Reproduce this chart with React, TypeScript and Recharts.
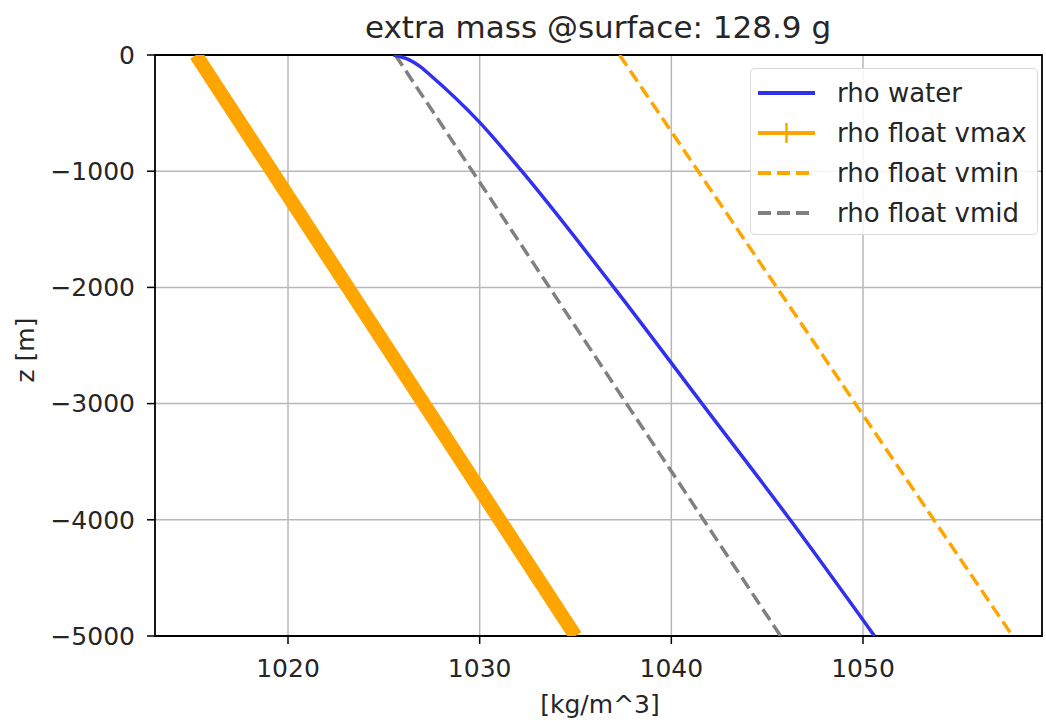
import React from 'react';
import { LineChart, Line, XAxis, YAxis, CartesianGrid, Legend, ReferenceArea } from 'recharts';

const zWater = [0, -40, -100, -170, -580, -1000, -2000, -3000, -4000, -5000];
const rhoWaterVals = [1025.5, 1026.3, 1026.9, 1027.4, 1030.0, 1032.2, 1037.0, 1041.6, 1046.2, 1050.6];

const zEnds = [0, -5000];
const rhoVmax = [1015.2, 1035.0];
const rhoVmin = [1037.3, 1057.8];
const rhoVmid = [1025.6, 1045.7];

const xTicks = [1020, 1030, 1040, 1050];
const yTicks = [0, -1000, -2000, -3000, -4000, -5000];
const xDomain = [1013.06, 1059.34];
const yDomain = [-5000, 0];

const titleText = 'extra mass @surface: 128.9 g';
const xLabel = '[kg/m^3]';
const yLabel = 'z [m]';

const toRows = (xs: number[], zs: number[]) => xs.map((x, i) => ({ x, z: zs[i] }));

const waterData = toRows(rhoWaterVals, zWater);
const vmaxData = toRows(rhoVmax, zEnds);
const vminData = toRows(rhoVmin, zEnds);
const vmidData = toRows(rhoVmid, zEnds);

const FONT = '"DejaVu Sans", sans-serif';
const TEXT = '#262626';
const BLUE = '#3030ee';

const fmt = (v: number) => (v < 0 ? '\u2212' + Math.abs(v) : String(v));

const legendItems = [
  { label: 'rho water', color: BLUE, dash: '', plus: false },
  { label: 'rho float vmax', color: '#FFA500', dash: '', plus: true },
  { label: 'rho float vmin', color: '#FFA500', dash: '13 6', plus: false },
  { label: 'rho float vmid', color: '#808080', dash: '13 6', plus: false },
];

const renderLegend = () => (
  <div
    style={{
      border: '1.5px solid #d9d9d9',
      borderRadius: 5,
      background: 'rgba(255,255,255,0.85)',
      padding: '4px 0 3px 6px',
      fontFamily: FONT,
      fontSize: 26,
      color: TEXT,
      boxSizing: 'border-box',
      width: 288,
      height: 167,
    }}
  >
    {legendItems.map((it) => (
      <div key={it.label} style={{ display: 'flex', alignItems: 'center', height: 40, whiteSpace: 'nowrap' }}>
        <svg width={60} height={24} style={{ marginRight: 20, flex: 'none' }}>
          <line x1={1} y1={12} x2={58} y2={12} stroke={it.color} strokeWidth={4} strokeDasharray={it.dash || undefined} />
          {it.plus && <line x1={29.5} y1={2} x2={29.5} y2={22} stroke={it.color} strokeWidth={2.5} />}
        </svg>
        <span>{it.label}</span>
      </div>
    ))}
  </div>
);

export default function App() {
  return (
    <div style={{ position: 'absolute', left: 0, top: 0, width: 1046, height: 721, background: '#fff' }}>
      <LineChart
        width={1046}
        height={721}
        margin={{ top: 55, right: 4, bottom: 35, left: 55 }}
      >
        <CartesianGrid stroke="#b8b8b8" strokeWidth={1.5} verticalValues={xTicks} horizontalValues={yTicks} />
        <XAxis
          type="number"
          dataKey="x"
          domain={xDomain}
          allowDataOverflow
          ticks={xTicks}
          tickFormatter={fmt}
          height={50}
          axisLine={false}
          tickSize={8}
          tickLine={{ stroke: '#000', strokeWidth: 1.5 }}
          tick={{ fill: TEXT, fontSize: 25, fontFamily: FONT }}
          tickMargin={15}
        />
        <YAxis
          type="number"
          dataKey="z"
          domain={yDomain}
          allowDataOverflow
          ticks={yTicks}
          tickFormatter={fmt}
          width={100}
          axisLine={false}
          tickSize={8}
          tickLine={{ stroke: '#000', strokeWidth: 1.5 }}
          tick={{ fill: TEXT, fontSize: 25, fontFamily: FONT }}
          tickMargin={12}
        />
        <Line data={vmaxData} dataKey="z" stroke="#FFA500" strokeWidth={14} dot={false} isAnimationActive={false} />
        <Line data={vminData} dataKey="z" stroke="#FFA500" strokeWidth={3.5} strokeDasharray="13 6" dot={false} isAnimationActive={false} />
        <Line data={vmidData} dataKey="z" stroke="#808080" strokeWidth={3.5} strokeDasharray="13 6" dot={false} isAnimationActive={false} />
        <Line data={waterData} type="monotone" dataKey="z" stroke={BLUE} strokeWidth={3.5} dot={false} isAnimationActive={false} />
        <ReferenceArea x1={xDomain[0]} x2={xDomain[1]} y1={yDomain[0]} y2={yDomain[1]} fill="none" stroke="#000" strokeWidth={1.8} ifOverflow="visible" />
        <Legend
          content={renderLegend}
          layout="vertical"
          align="center"
          verticalAlign="middle"
          wrapperStyle={{ position: 'absolute', left: 750, top: 68, width: 288 }}
        />
        <text x={598} y={38} textAnchor="middle" fill={TEXT} fontSize={31} fontFamily={FONT}>
          {titleText}
        </text>
        <text x={600} y={713} textAnchor="middle" fill={TEXT} fontSize={25} fontFamily={FONT}>
          {xLabel}
        </text>
        <text x={34} y={350} transform="rotate(-90 34 350)" textAnchor="middle" fill={TEXT} fontSize={25} fontFamily={FONT}>
          {yLabel}
        </text>
      </LineChart>
    </div>
  );
}
